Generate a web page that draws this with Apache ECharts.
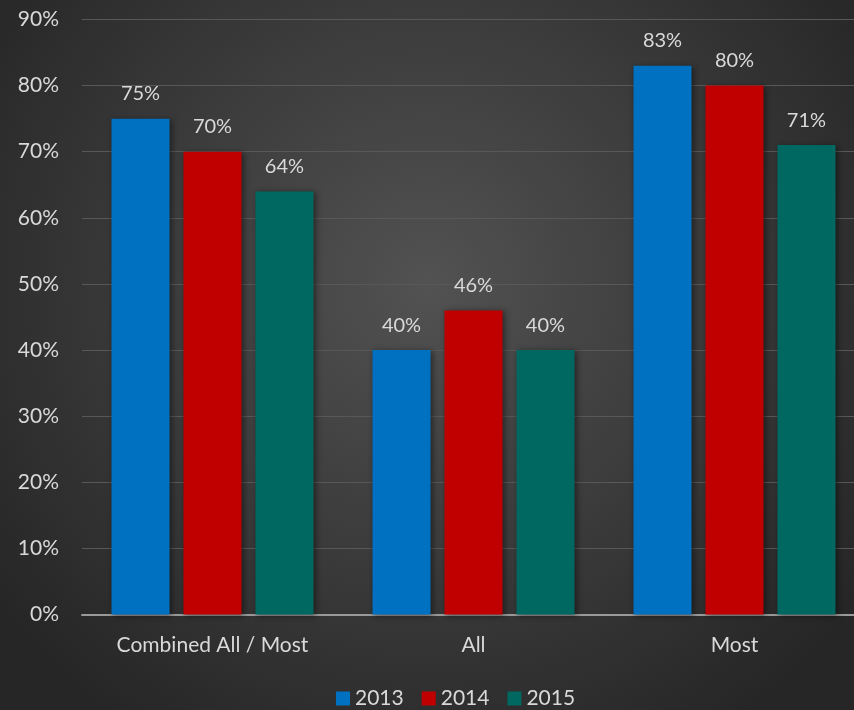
<!DOCTYPE html>
<html><head><meta charset="utf-8">
<script src="https://cdn.jsdelivr.net/npm/echarts@6/dist/echarts.min.js"></script>
<style>html,body{margin:0;padding:0;}#c{width:854px;height:710px;}</style>
</head><body><div id="c"></div>
<script>
const categories = ['Combined All / Most', 'All', 'Most'];
const seriesNames = ['2013', '2014', '2015'];
const v2013 = [75, 40, 83];
const v2014 = [70, 46, 80];
const v2015 = [64, 40, 71];
const colors = ['#0070c0', '#c00000', '#006861'];
const font = 'Lato, "Open Sans", sans-serif';
const values = [v2013, v2014, v2015];
const chart = echarts.init(document.getElementById('c'));
chart.setOption({
  backgroundColor: {
    type: 'radial', x: 0.5, y: 0.4, r: 0.75,
    colorStops: [{offset: 0, color: '#525252'}, {offset: 1, color: '#262626'}]
  },
  textStyle: {fontFamily: font},
  grid: {left: 82, width: 783, top: 19.5, height: 595, outerBoundsMode: 'none', containLabel: false},
  legend: {
    top: 683, left: 331, itemWidth: 14, itemHeight: 14, itemGap: 18,
    icon: 'rect',
    textStyle: {color: '#d9d9d9', fontSize: 21, fontFamily: font, padding: [0, 0, 0, 0]},
    data: seriesNames
  },
  xAxis: {
    type: 'category', data: categories,
    axisLine: {lineStyle: {color: '#9a9a9a', width: 2}},
    axisTick: {show: false},
    axisLabel: {color: '#d9d9d9', fontSize: 21, margin: 20, fontFamily: font}
  },
  yAxis: {
    type: 'value', min: 0, max: 90, interval: 10,
    axisLine: {show: false}, axisTick: {show: false},
    axisLabel: {color: '#d9d9d9', fontSize: 21, margin: 23, formatter: '{value}%', fontFamily: font},
    splitLine: {lineStyle: {color: '#585858', width: 1}}
  },
  series: seriesNames.map((n, i) => ({
    name: n, type: 'bar', data: values[i],
    barGap: '24%', barCategoryGap: '22.6%',
    itemStyle: {color: colors[i], shadowColor: 'rgba(0,0,0,0.45)', shadowBlur: 6, shadowOffsetX: 2, shadowOffsetY: 1},
    label: {show: true, position: 'top', distance: 15, color: '#d9d9d9', fontSize: 20, formatter: '{c}%', fontFamily: font}
  }))
});
</script></body></html>
